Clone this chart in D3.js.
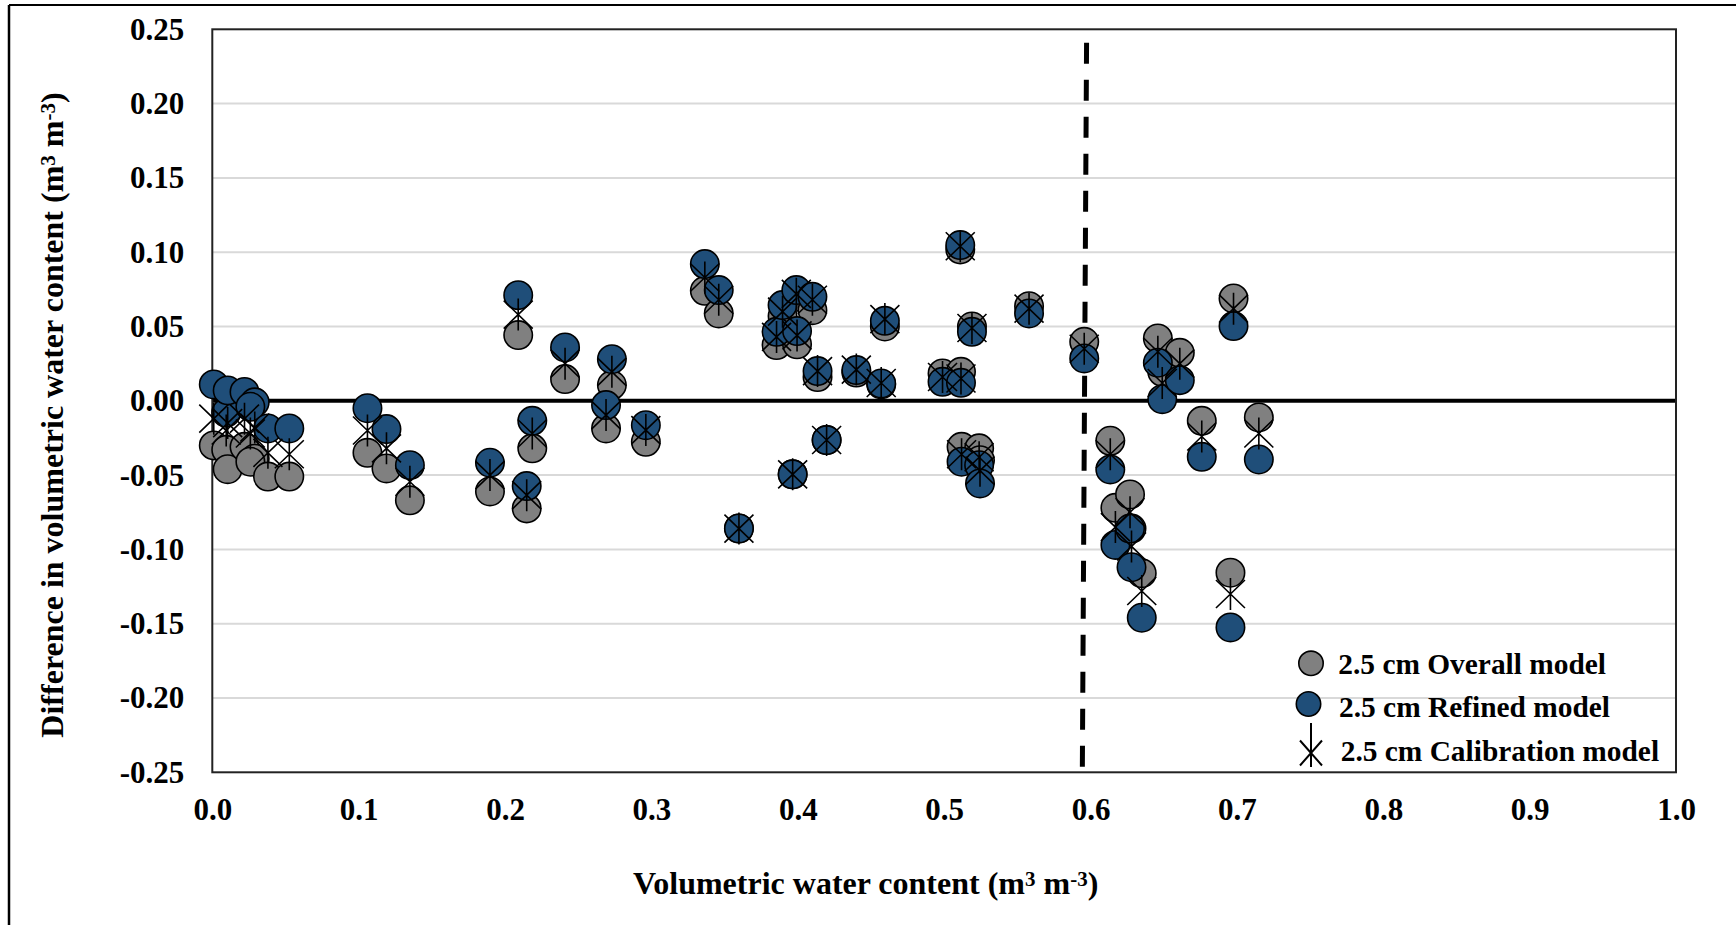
<!DOCTYPE html>
<html>
<head>
<meta charset="utf-8">
<script src="https://cdn.jsdelivr.net/npm/d3@7"></script>
<style>
  html, body { margin: 0; padding: 0; background: #fff; }
  svg { display: block; }
  text { font-family: "Liberation Serif", "Times New Roman", serif; font-weight: bold; fill: #000; }
</style>
</head>
<body>
<svg id="chart" width="1736" height="925"></svg>
<script>
// ---------------- DATA ----------------
const xValues = [0.001, 0.0095, 0.0105, 0.022, 0.029, 0.026, 0.038, 0.0526,
  0.106, 0.119, 0.135, 0.1897, 0.209, 0.2148, 0.2186, 0.241, 0.269, 0.273, 0.2962,
  0.3365, 0.346, 0.3598, 0.3855, 0.3896, 0.3965, 0.399, 0.3995, 0.410, 0.4135, 0.4197,
  0.440, 0.457, 0.4595, 0.4989, 0.511, 0.5115, 0.5119, 0.519, 0.5239, 0.5245, 0.558,
  0.5957, 0.6135, 0.617, 0.627, 0.628, 0.635, 0.646, 0.649, 0.661, 0.676, 0.6956, 0.6977, 0.715];

const overallDiff = [-0.030, -0.033, -0.046, -0.031, -0.039, -0.041, -0.051, -0.051,
  -0.035, -0.0455, -0.067, -0.061, 0.0442, -0.0724, -0.032, 0.0146, -0.0186, 0.0106, -0.0276,
  0.074, 0.0588, -0.086, 0.0375, 0.057, -0.0495, 0.070, 0.038, 0.061, 0.016, -0.0264,
  0.019, 0.011, 0.050, 0.0184, 0.1019, 0.0195, -0.031, 0.050, -0.032, -0.040, 0.0637,
  0.0397, -0.0269, -0.072, -0.063, -0.086, -0.116, 0.042, 0.0195, 0.0323, -0.0135, -0.1157, 0.0689, -0.0112];

const refinedDiff = [0.011, -0.008, 0.007, 0.006, -0.001, -0.004, -0.0186, -0.0186,
  -0.005, -0.019, -0.0433, -0.0417, 0.0711, -0.0574, -0.0135, 0.0359, -0.0029, 0.028, -0.0164,
  0.092, 0.0745, -0.0859, 0.0464, 0.0644, -0.0495, 0.0745, 0.0469, 0.070, 0.020, -0.0264,
  0.0207, 0.0117, 0.0538, 0.0128, 0.1048, 0.0121, -0.041, 0.0464, -0.0433, -0.0556, 0.0588,
  0.0285, -0.0462, -0.097, -0.086, -0.112, -0.146, 0.0256, 0.0011, 0.0139, -0.0377, -0.1525, 0.0503, -0.0395];

const calibrationDiff = [-0.012, -0.020, -0.015, -0.012, -0.018, -0.022, -0.035, -0.036,
  -0.020, -0.032, -0.0545, -0.050, 0.058, -0.0635, -0.022, 0.025, -0.0096, 0.0195, -0.0197,
  0.083, 0.068, -0.086, 0.043, 0.060, -0.0495, 0.072, 0.044, 0.068, 0.020, -0.0264,
  0.021, 0.012, 0.055, 0.016, 0.104, 0.015, -0.036, 0.049, -0.038, -0.047, 0.062,
  0.035, -0.036, -0.085, -0.075, -0.098, -0.128, 0.033, 0.012, 0.025, -0.024, -0.130, 0.062, -0.022];

const thresholdLineX = [0.5973, 0.5944];
const thresholdLineY = [0.241, -0.25];

const seriesNames = ["2.5 cm Overall model", "2.5 cm Refined model", "2.5 cm Calibration model"];
const xTickValues = [0, 0.1, 0.2, 0.3, 0.4, 0.5, 0.6, 0.7, 0.8, 0.9, 1.0];
const xTickLabels = ["0.0", "0.1", "0.2", "0.3", "0.4", "0.5", "0.6", "0.7", "0.8", "0.9", "1.0"];
const yTickValues = [-0.25, -0.20, -0.15, -0.10, -0.05, 0, 0.05, 0.10, 0.15, 0.20, 0.25];
const yTickLabels = ["-0.25", "-0.20", "-0.15", "-0.10", "-0.05", "0.00", "0.05", "0.10", "0.15", "0.20", "0.25"];

// ---------------- LAYOUT ----------------
const plot = { left: 212.3, right: 1676, top: 29.3, bottom: 772.3 };
const svg = d3.select("#chart");

const x = d3.scaleLinear().domain([0, 1]).range([plot.left, plot.right]);
const y = d3.scaleLinear().domain([-0.25, 0.25]).range([plot.bottom, plot.top]);

// outer frame (top and left edges visible)
svg.append("line").attr("x1", 9).attr("x2", 1736).attr("y1", 5).attr("y2", 5)
  .attr("stroke", "#000").attr("stroke-width", 2);
svg.append("line").attr("x1", 9).attr("x2", 9).attr("y1", 5).attr("y2", 925)
  .attr("stroke", "#000").attr("stroke-width", 2.5);

// gridlines
svg.append("g").selectAll("line")
  .data(yTickValues.filter(v => Math.abs(v) > 1e-9 && Math.abs(v) < 0.249))
  .join("line")
  .attr("x1", plot.left).attr("x2", plot.right)
  .attr("y1", d => y(d)).attr("y2", d => y(d))
  .attr("stroke", "#d9d9d9").attr("stroke-width", 2);

// zero line
svg.append("line")
  .attr("x1", plot.left).attr("x2", plot.right)
  .attr("y1", y(0)).attr("y2", y(0))
  .attr("stroke", "#000").attr("stroke-width", 4);

// threshold dashed line
svg.append("line")
  .attr("x1", x(thresholdLineX[0])).attr("y1", y(thresholdLineY[0]))
  .attr("x2", x(thresholdLineX[1])).attr("y2", y(thresholdLineY[1]))
  .attr("stroke", "#000").attr("stroke-width", 5)
  .attr("stroke-dasharray", "21,16");

// plot border
svg.append("rect")
  .attr("x", plot.left).attr("y", plot.top)
  .attr("width", plot.right - plot.left).attr("height", plot.bottom - plot.top)
  .attr("fill", "none").attr("stroke", "#222").attr("stroke-width", 2);

// axes
const xAxis = d3.axisBottom(x).tickValues(xTickValues)
  .tickFormat((d, i) => xTickLabels[i]).tickSize(0).tickPadding(26);
const gx = svg.append("g").attr("transform", `translate(0,${plot.bottom})`).call(xAxis);
gx.select(".domain").remove();
gx.selectAll("text").style("font-size", "31px")
  .style("font-family", '"Liberation Serif", "Times New Roman", serif').style("font-weight", "bold").attr("fill", "#000");

const yAxis = d3.axisLeft(y).tickValues(yTickValues)
  .tickFormat((d, i) => yTickLabels[i]).tickSize(0).tickPadding(28);
const gy = svg.append("g").attr("transform", `translate(${plot.left},0)`).call(yAxis);
gy.select(".domain").remove();
gy.selectAll("text").style("font-size", "31px")
  .style("font-family", '"Liberation Serif", "Times New Roman", serif').style("font-weight", "bold").attr("fill", "#000");

// data
const points = xValues.map((xv, i) => ({ x: xv, o: overallDiff[i], r: refinedDiff[i], c: calibrationDiff[i] }));

const starPath = (h, dx, dy) => `M0,${-h}L0,${h}M${-dx},${-dy}L${dx},${dy}M${-dx},${dy}L${dx},${-dy}`;

svg.append("g").selectAll("circle").data(points).join("circle")
  .attr("cx", d => x(d.x)).attr("cy", d => y(d.o)).attr("r", 14.2)
  .attr("fill", "#808080").attr("stroke", "#000").attr("stroke-width", 1.6);

svg.append("g").selectAll("circle").data(points).join("circle")
  .attr("cx", d => x(d.x)).attr("cy", d => y(d.r)).attr("r", 14.2)
  .attr("fill", "#1f4e79").attr("stroke", "#000").attr("stroke-width", 1.6);

svg.append("g").selectAll("path").data(points).join("path")
  .attr("transform", d => `translate(${x(d.x)},${y(d.c)})`)
  .attr("d", starPath(16, 14.5, 14))
  .attr("fill", "none").attr("stroke", "#000").attr("stroke-width", 1.6);

// legend
const legend = svg.append("g");
const legendRows = [
  { cx: 1311, cy: 663.3, tx: 1338.3, ty: 674, type: "circle", fill: "#808080" },
  { cx: 1308.5, cy: 704, tx: 1339, ty: 716.7, type: "circle", fill: "#1f4e79" },
  { cx: 1311, cy: 745, tx: 1340.7, ty: 760.7, type: "star" }
];
legendRows.forEach((row, i) => {
  if (row.type === "circle") {
    legend.append("circle").attr("cx", row.cx).attr("cy", row.cy).attr("r", 12.2)
      .attr("fill", row.fill).attr("stroke", "#000").attr("stroke-width", 1.6);
  } else {
    legend.append("path").attr("transform", `translate(${row.cx},${row.cy})`)
      .attr("d", `M0,-22L0,22M-11,-4.5L11,20.5M-11,20.5L11,-4.5`)
      .attr("fill", "none").attr("stroke", "#000").attr("stroke-width", 2);
  }
  legend.append("text").attr("x", row.tx).attr("y", row.ty)
    .style("font-size", "29.4px").text(seriesNames[i]);
});

// axis titles
const xt = svg.append("text").attr("x", 865.7).attr("y", 894).attr("text-anchor", "middle")
  .style("font-size", "32px");
xt.append("tspan").text("Volumetric water content (m");
xt.append("tspan").attr("dy", -8).style("font-size", "21px").text("3");
xt.append("tspan").attr("dy", 8).text(" m");
xt.append("tspan").attr("dy", -8).style("font-size", "21px").text("-3");
xt.append("tspan").attr("dy", 8).text(")");

const yt = svg.append("text").attr("transform", "translate(63,415) rotate(-90)")
  .attr("text-anchor", "middle").style("font-size", "32px");
yt.append("tspan").text("Difference in volumetric water content (m");
yt.append("tspan").attr("dy", -8).style("font-size", "21px").text("3");
yt.append("tspan").attr("dy", 8).text(" m");
yt.append("tspan").attr("dy", -8).style("font-size", "21px").text("-3");
yt.append("tspan").attr("dy", 8).text(")");
</script>
</body>
</html>
